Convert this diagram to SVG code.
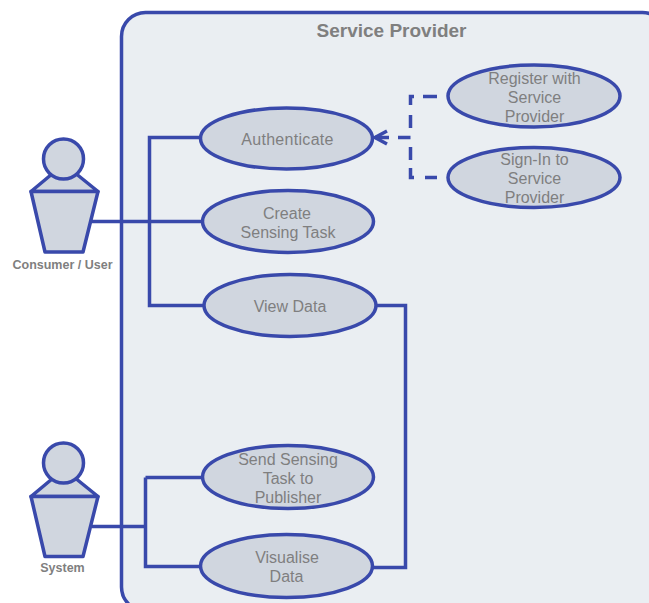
<svg xmlns="http://www.w3.org/2000/svg" width="649" height="603" viewBox="0 0 649 603">
<style>
.s{fill:#d0d6df;stroke:#3949ab;stroke-width:3.500;stroke-linejoin:round}
.c{fill:none;stroke:#3949ab;stroke-width:3.500}
text{font-family:"Liberation Sans",Arial,sans-serif;fill:#7f7f7f;text-anchor:middle}
.l{font-size:16px}
.a{font-size:12.500px;font-weight:bold}
</style>
<rect width="649" height="603" fill="#fff"/>
<g id="boundary">
<rect x="121.500" y="12.500" width="545" height="598.500" rx="24" fill="#eaeef2" stroke="#3949ab" stroke-width="3.500"/>
<text x="391.500" y="36.500" font-size="19" font-weight="bold">Service Provider</text>
</g>
<g id="connectors">
<path class="c" d="M92 221.500H203M149.500 221.500V137.500H201M149.500 221.500V305.500H204"/>
<path class="c" d="M92 526.500H145.500M145.500 477.500H203M145.500 477.500V566.500H201"/>
<path class="c" d="M375 305.500H405.500V567.500H373"/>
<path class="c" d="M423 96.500H437M447 96.500H449M414 96.500H410.500V105M410.500 115V128M410.500 147V160M410.500 168V177.500H414M425 177.500H437M398 137.500H410.500M375 137.500H389"/>
<path class="c" stroke-width="4" d="M387 131L375 137.500L387 144"/>
</g>
<g id="actor-consumer">
<path class="s" d="M31 191.500L64 164L98 191.500Z"/>
<path class="s" d="M31 191.500H98L83 252H45Z"/>
<circle class="s" cx="63.500" cy="159" r="20"/>
<text class="a" x="62.500" y="269">Consumer / User</text>
</g>
<g id="actor-system">
<path class="s" d="M31 496.500L64 469L98 496.500Z"/>
<path class="s" d="M31 496.500H98L83 556.500H45Z"/>
<circle class="s" cx="63.500" cy="463" r="20"/>
<text class="a" x="62.500" y="572">System</text>
</g>
<g id="uc-authenticate">
<ellipse class="s" cx="286.500" cy="138.500" rx="86" ry="30.500"/>
<text class="l" x="287.500" y="145" letter-spacing=".3">Authenticate</text>
</g>
<g id="uc-register">
<ellipse class="s" cx="534" cy="96" rx="86" ry="31"/>
<text class="l" x="534.500" y="84">Register with</text>
<text class="l" x="534.500" y="103">Service</text>
<text class="l" x="534.500" y="122">Provider</text>
</g>
<g id="uc-signin">
<ellipse class="s" cx="534" cy="177.500" rx="86" ry="30"/>
<text class="l" x="534.500" y="165">Sign-In to</text>
<text class="l" x="534.500" y="184">Service</text>
<text class="l" x="534.500" y="203">Provider</text>
</g>
<g id="uc-create">
<ellipse class="s" cx="288" cy="221.500" rx="85.500" ry="31"/>
<text class="l" x="287" y="219">Create</text>
<text class="l" x="288" y="238">Sensing Task</text>
</g>
<g id="uc-view">
<ellipse class="s" cx="290" cy="305.500" rx="86" ry="31"/>
<text class="l" x="290" y="312">View Data</text>
</g>
<g id="uc-send">
<ellipse class="s" cx="288" cy="477" rx="85.500" ry="31.500"/>
<text class="l" x="288" y="465">Send Sensing</text>
<text class="l" x="288" y="484">Task to</text>
<text class="l" x="288" y="503">Publisher</text>
</g>
<g id="uc-visualise">
<ellipse class="s" cx="286.500" cy="566" rx="86" ry="31.500"/>
<text class="l" x="287" y="563">Visualise</text>
<text class="l" x="286.500" y="582">Data</text>
</g>
</svg>
